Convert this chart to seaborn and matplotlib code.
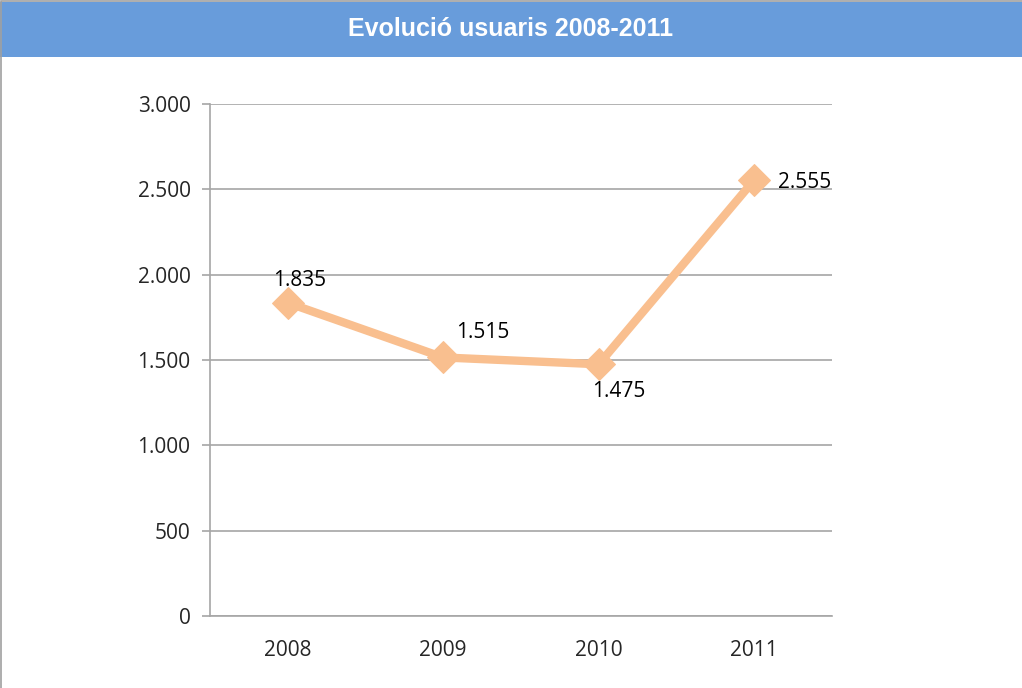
import matplotlib
matplotlib.use('Agg')
import matplotlib.pyplot as plt
import matplotlib.patches as patches
from matplotlib.ticker import FuncFormatter
import seaborn as sns
import pandas as pd

# dades
anys = ['2008', '2009', '2010', '2011']
usuaris = [1835, 1515, 1475, 2555]
etiquetes = ['1.835', '1.515', '1.475', '2.555']

df = pd.DataFrame({'any': anys, 'usuaris': usuaris})

sns.set_style('white')
plt.rcParams['font.family'] = ['Open Sans', 'DejaVu Sans']

fig = plt.figure(figsize=(10.22, 6.88), dpi=100)

# barra blava del titol
fig.patches.append(patches.Rectangle((0, 1 - 57 / 688), 1, 55 / 688, transform=fig.transFigure,
                                     facecolor='#689cdb', edgecolor='none', zorder=0))
fig.text(0.5, 1 - 29 / 688, 'Evolució usuaris 2008-2011', ha='center', va='center',
         color='white', fontsize=18, fontweight='bold', family='Liberation Sans')
# vora de la figura (esquerra i dalt)
fig.patches.append(patches.Rectangle((0.001, -0.1), 2, 1.098, transform=fig.transFigure,
                                     facecolor='none', edgecolor='#a0a0a0', linewidth=1.2, zorder=0))

ax = fig.add_axes([210 / 1022, 1 - 616 / 688, 622 / 1022, 512 / 688])
sns.lineplot(data=df, x='any', y='usuaris', ax=ax, color='#f9bf8f', linewidth=6,
             marker='D', markersize=16, markeredgecolor='#f9bf8f', sort=False)

ax.set_xlim(-0.5, 3.5)
ax.set_ylim(0, 3000)
ax.set_yticks(range(0, 3001, 500))
ax.yaxis.set_major_formatter(FuncFormatter(lambda v, p: f'{int(v):,}'.replace(',', '.')))
ax.grid(axis='y', color='#a6a6a6', linewidth=1.2)
ax.set_axisbelow(True)
for s in ['top', 'right']:
    ax.spines[s].set_visible(False)
for s in ['left', 'bottom']:
    ax.spines[s].set_color('#a6a6a6')
    ax.spines[s].set_linewidth(1.2)

ax.set_xticks([0, 1, 2, 3])
ax.set_xticklabels(anys)
ax.set_xticks([-0.5, 0.5, 1.5, 2.5, 3.5], minor=True)
ax.tick_params(axis='x', which='major', length=0, pad=17, labelsize=15)
ax.tick_params(axis='x', which='minor', length=6, color='#a6a6a6', width=1.2, direction='out')
ax.tick_params(axis='y', length=6, color='#a6a6a6', width=1.2, labelsize=15, pad=8, left=True)
ax.set_xlabel('')
ax.set_ylabel('')

# etiquetes de dades
offsets = [(12, 22), (40, 25), (20, -27), (50, -3)]
for i, (v, t) in enumerate(zip(usuaris, etiquetes)):
    ax.annotate(t, (i, v), xytext=offsets[i], textcoords='offset pixels',
                ha='center', va='center', fontsize=15, color='black')

fig.savefig('out.png', dpi=100)
